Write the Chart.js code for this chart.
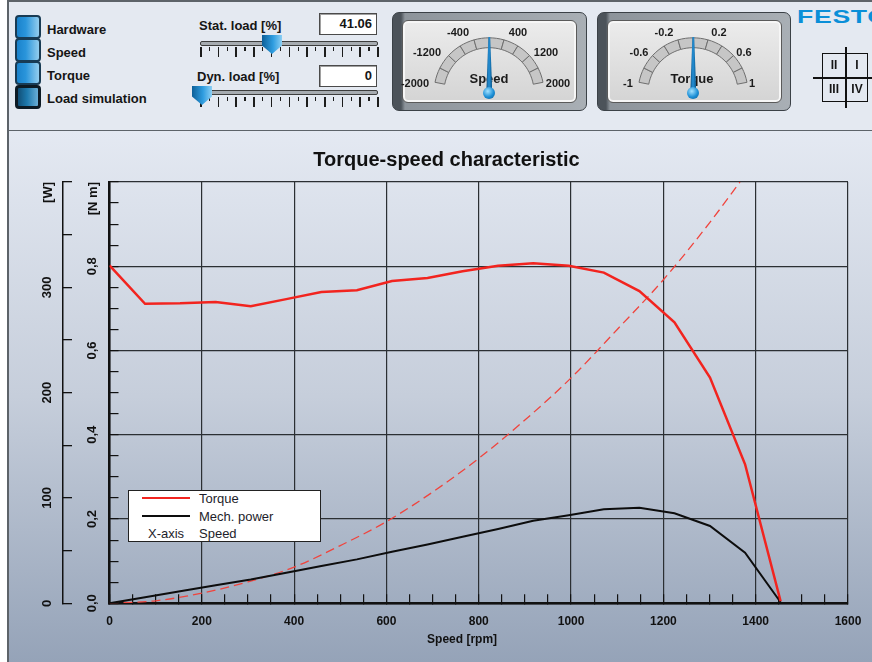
<!DOCTYPE html>
<html>
<head>
<meta charset="utf-8">
<script src="https://cdn.jsdelivr.net/npm/chart.js@4.4.1/dist/chart.umd.min.js"></script>
<style>
  html, body { margin: 0; padding: 0; }
  body { width: 872px; height: 662px; position: relative; overflow: hidden; background: #fff;
         font-family: "Liberation Sans", Arial, sans-serif; color: #151515; }
  .a { position: absolute; }
  .t { position: absolute; white-space: nowrap; transform: translate(-50%, -50%); }
  .lbl { position: absolute; white-space: nowrap; transform: translateY(-50%); font-weight: bold; font-size: 13px; }
  #topPanel { left: 7px; top: 0; width: 865px; height: 132px; box-sizing: border-box; background: #e4e9f1;
              border-top: 2px solid #5d6369; border-left: 2px solid #5d6369; border-bottom: 2px solid #5d6369; }
  #chartPanel { left: 7px; top: 131px; width: 865px; height: 531px; box-sizing: border-box;
                border-left: 2px solid #5d6369;
                background: linear-gradient(180deg, #e4e9f2 0%, #c6cedb 50%, #95a3b8 100%); }
  .btn { position: absolute; left: 15px; width: 26px; height: 24px; box-sizing: border-box;
         border: 2px solid #183b54; border-radius: 4px;
         background: linear-gradient(90deg, #1a82cb 0%, #2a95db 40%, #93cdee 100%); }
  .btn.on { border: 3px solid #0c1a24; background: linear-gradient(90deg, #114f77 0%, #1d79ad 45%, #6aaed6 100%); }
  .box { position: absolute; left: 319px; width: 58px; height: 22px; box-sizing: border-box; background: #fff;
         border: 1px solid #4a4a4a; box-shadow: inset 1px 1px 0 #a0a0a0; text-align: right;
         font-weight: bold; font-size: 13px; line-height: 20px; padding-right: 4px; }
  .track { position: absolute; left: 200px; width: 178px; height: 5px; box-sizing: border-box;
           background: #a6abb0; border: 1px solid #3d3d3d; border-radius: 2px; }
  .thumb { position: absolute; width: 20px; height: 19px;
           clip-path: polygon(0 0, 100% 0, 100% 55%, 50% 100%, 0 55%);
           background: linear-gradient(90deg, #0c5f98 0%, #2f9de0 55%, #8ccff4 100%); }
  .ticksL { position: absolute; left: 200px; width: 179px; height: 10px;
            background: repeating-linear-gradient(90deg, #1c1c1c 0 1.6px, transparent 1.6px 17.7px); }
  .ticksS { position: absolute; left: 208.8px; width: 170px; height: 4px;
            background: repeating-linear-gradient(90deg, #1c1c1c 0 1.2px, transparent 1.2px 17.7px); }
  .bezel { position: absolute; top: 12px; height: 99px; box-sizing: border-box; border-radius: 7px;
           border: 1px solid #3b4147;
           background: linear-gradient(90deg, #4c535a 0, #4c535a 8px, #8d949b 12px, #a9afb5 100%); }
  .face { position: absolute; top: 20px; width: 175px; height: 83px; box-sizing: border-box; border-radius: 6px;
          border: 1px solid #5a5a5a; box-shadow: inset 0 0 0 2px #f6f6f6;
          background: linear-gradient(180deg, #ececec 0%, #d4d4d4 100%); }
  .gl { position: absolute; white-space: nowrap; transform: translate(-50%, -50%); font-weight: bold; font-size: 11px; color: #1b1b1b; }
  .needle { position: absolute; width: 6px; height: 56px; top: 37px;
            background: linear-gradient(90deg, #0a4d7d, #2590d6 50%, #0a5a90);
            clip-path: polygon(35% 0, 65% 0, 100% 100%, 0 100%); }
  .pivot { position: absolute; width: 12px; height: 12px; top: 87px; border-radius: 50%;
           background: radial-gradient(circle at 40% 35%, #a4e2ff, #1c8fd6 55%, #0b5a92); }
  #legendBox { left: 128px; top: 490px; width: 193px; height: 52px; box-sizing: border-box;
               background: #fff; border: 1px solid #222; }
  .leg { position: absolute; white-space: nowrap; transform: translateY(-50%); font-size: 13px; color: #1d1d2a; }
</style>
</head>
<body>
<div id="topPanel" class="a"></div>
<div id="chartPanel" class="a"></div>

<!-- buttons -->
<div class="btn" style="top:15px"></div>
<div class="btn" style="top:38px"></div>
<div class="btn" style="top:61px"></div>
<div class="btn on" style="top:85px"></div>
<span class="lbl" style="left:47px; top:29px">Hardware</span>
<span class="lbl" style="left:47px; top:52px">Speed</span>
<span class="lbl" style="left:47px; top:75px">Torque</span>
<span class="lbl" style="left:47px; top:98px">Load simulation</span>

<!-- sliders -->
<span class="lbl" style="left:199px; top:25px">Stat. load [%]</span>
<div class="box" style="top:13px">41.06</div>
<div class="track" style="top:41px"></div>
<div class="ticksL" style="top:47px"></div>
<div class="ticksS" style="top:47px"></div>
<div class="thumb" style="left:262px; top:35px"></div>

<span class="lbl" style="left:197px; top:76px">Dyn. load [%]</span>
<div class="box" style="top:65px">0</div>
<div class="track" style="top:90px"></div>
<div class="ticksL" style="top:97px"></div>
<div class="ticksS" style="top:97px"></div>
<div class="thumb" style="left:192px; top:86px"></div>

<!-- gauges -->
<div class="bezel" style="left:392px; width:195px"></div>
<div class="face" style="left:402px"></div>
<div class="bezel" style="left:597px; width:194px"></div>
<div class="face" style="left:607px"></div>
<canvas id="gSpeed" class="a" width="130" height="80" style="left:424.3px; top:21.2px"></canvas>
<canvas id="gTorque" class="a" width="130" height="80" style="left:628.3px; top:21.2px"></canvas>
<div id="gaugeText"></div>
<span class="gl" style="left:489px; top:78px; font-size:13px">Speed</span>
<span class="gl" style="left:692px; top:78px; font-size:13px">Torque</span>
<div class="needle" style="left:486.3px"></div>
<div class="pivot" style="left:483.3px"></div>
<div class="needle" style="left:690.3px"></div>
<div class="pivot" style="left:687.3px"></div>

<!-- logo + quadrants -->
<span class="a" style="left:797px; top:6px; font-weight:bold; font-size:19px; color:#0a8fd8; letter-spacing:0.5px; transform:scaleX(1.4); transform-origin:left top">FESTO</span>
<div class="a" style="left:845px; top:47px; width:1.5px; height:61px; background:#111"></div>
<div class="a" style="left:813px; top:77px; width:59px; height:1.5px; background:#111"></div>
<div class="a" style="left:822px; top:53px; width:46px; height:49px; box-sizing:border-box; border:1px solid #111"></div>
<span class="t" style="left:834px; top:65px; font-weight:bold; font-size:12px">II</span>
<span class="t" style="left:857px; top:65px; font-weight:bold; font-size:12px">I</span>
<span class="t" style="left:834px; top:89px; font-weight:bold; font-size:12px">III</span>
<span class="t" style="left:857px; top:89px; font-weight:bold; font-size:12px">IV</span>

<!-- chart -->
<canvas id="chart" class="a" width="872" height="531" style="left:0; top:131px"></canvas>

<!-- legend -->
<div id="legendBox" class="a"></div>
<div class="a" style="left:142px; top:497px; width:48px; height:2px; background:#f2241f"></div>
<div class="a" style="left:142px; top:515px; width:48px; height:2px; background:#0d0d0d"></div>
<span class="leg" style="left:199px; top:498px">Torque</span>
<span class="leg" style="left:199px; top:516px">Mech. power</span>
<span class="leg" style="left:148px; top:533px">X-axis</span>
<span class="leg" style="left:199px; top:533px">Speed</span>

<script>
// ===================================
// DATA
// ===================================
const speedRpm = [0, 77, 153, 230, 306, 383, 459, 536, 612, 689, 765, 842, 918, 995, 1071, 1148, 1224, 1301, 1377, 1454];
const torqueNm = [0.802, 0.711, 0.712, 0.715, 0.705, 0.722, 0.739, 0.743, 0.765, 0.772, 0.788, 0.801, 0.807, 0.801, 0.785, 0.741, 0.667, 0.536, 0.330, 0.005];
const powerW = [0, 5.7, 11.4, 17.2, 22.6, 29.0, 35.5, 41.7, 49.0, 55.8, 63.2, 70.5, 78.3, 83.6, 89.3, 90.8, 85.5, 73.4, 48.1, 1.0];

// dashed red curve (load torque)
const loadSpeedRpm = [0, 100, 200, 300, 400, 500, 600, 700, 800, 900, 1000, 1100, 1200, 1300, 1366];
const loadTorqueNm = [0, 0.006, 0.024, 0.051, 0.086, 0.137, 0.194, 0.264, 0.344, 0.435, 0.535, 0.650, 0.768, 0.903, 1.0];

// labelled tick values
const speedLabelValues = [0, 200, 400, 600, 800, 1000, 1200, 1400, 1600];
const torqueLabelValues = [0, 0.2, 0.4, 0.6, 0.8];
const powerLabelValues = [0, 100, 200, 300];

// gauges
const gaugeSegments = [1, 1, 1, 1, 1, 1, 1, 1, 1, 1];
const speedGaugeLabels = ['-2000', '-1200', '-400', '400', '1200', '2000'];
const torqueGaugeLabels = ['-1', '-0.6', '-0.2', '0.2', '0.6', '1'];
const speedGaugeLabelPos = [[415, 83], [427, 52], [458, 32], [518, 32], [546, 52], [558, 83]];
const torqueGaugeLabelPos = [[628, 83], [639, 52], [664, 32], [719, 32], [744, 52], [752, 83]];

// ===================================
// HELPERS
// ===================================
function pts(xs, ys) {
  return xs.map((x, i) => ({ x: x, y: ys[i] }));
}

function near(list, v) {
  return list.some(l => Math.abs(l - v) < 1e-6);
}

function onStep(v, step) {
  return Math.abs(v / step - Math.round(v / step)) < 1e-6;
}

Chart.defaults.font.family = '"Liberation Sans", Arial, sans-serif';
Chart.defaults.color = '#151515';

const GRID = '#2b2f33';
const INK = '#111111';

// ===================================
// GAUGES
// ===================================
function makeGauge(id, labels, pos) {
  new Chart(document.getElementById(id), {
    type: 'doughnut',
    data: {
      datasets: [{
        data: gaugeSegments,
        backgroundColor: '#c6c6c6',
        borderColor: '#6e6e6e',
        borderWidth: 1
      }]
    },
    options: {
      responsive: false,
      animation: false,
      events: [],
      rotation: -79,
      circumference: 158,
      radius: 55,
      cutout: '82%',
      plugins: { legend: { display: false }, tooltip: { enabled: false } }
    }
  });

  const holder = document.getElementById('gaugeText');
  labels.forEach((txt, i) => {
    const s = document.createElement('span');
    s.className = 'gl';
    s.style.left = pos[i][0] + 'px';
    s.style.top = pos[i][1] + 'px';
    s.textContent = txt;
    holder.appendChild(s);
  });
}

makeGauge('gSpeed', speedGaugeLabels, speedGaugeLabelPos);
makeGauge('gTorque', torqueGaugeLabels, torqueGaugeLabelPos);

// ===================================
// TORQUE-SPEED CHART
// ===================================
new Chart(document.getElementById('chart'), {
  type: 'line',
  data: {
    datasets: [
      {
        label: 'Torque',
        data: pts(speedRpm, torqueNm),
        yAxisID: 'yT',
        borderColor: '#f2241f',
        borderWidth: 2.5,
        pointRadius: 0,
        tension: 0
      },
      {
        label: 'Mech. power',
        data: pts(speedRpm, powerW),
        yAxisID: 'yP',
        borderColor: '#0d0d0d',
        borderWidth: 2,
        pointRadius: 0,
        tension: 0
      },
      {
        label: 'Load',
        data: pts(loadSpeedRpm, loadTorqueNm),
        yAxisID: 'yT',
        borderColor: '#f0443d',
        borderWidth: 1.3,
        borderDash: [9, 5],
        pointRadius: 0,
        cubicInterpolationMode: 'monotone'
      }
    ]
  },
  options: {
    responsive: false,
    animation: false,
    events: [],
    layout: { padding: { left: 35, right: 14, top: 0, bottom: 0 } },
    plugins: {
      legend: { display: false },
      tooltip: { enabled: false },
      title: {
        display: true,
        text: 'Torque-speed characteristic',
        color: INK,
        font: { size: 20, weight: 'bold' },
        padding: { top: 17, bottom: 10 }
      }
    },
    scales: {
      x: {
        type: 'linear',
        position: 'bottom',
        min: 0,
        max: 1600,
        ticks: {
          stepSize: 50,
          autoSkip: false,
          maxRotation: 0,
          padding: 20.2,
          color: INK,
          font: { size: 12, weight: 'bold' },
          callback: v => near(speedLabelValues, v) ? String(v) : ''
        },
        grid: {
          tickLength: -9,
          lineWidth: 1.2,
          color: c => (c.tick && onStep(c.tick.value, 200)) ? GRID : 'rgba(0,0,0,0)',
          tickColor: INK
        },
        border: { color: INK, width: 2.5 },
        title: {
          display: true,
          text: 'Speed [rpm]          ',
          color: INK,
          font: { size: 12, weight: 'bold' },
          padding: { top: 0, bottom: 15.5 }
        },
        afterFit: s => { s.height = 58.7; s.paddingLeft = 0; s.paddingRight = 24; }
      },
      yT: {
        type: 'linear',
        position: 'left',
        weight: 0,
        min: 0,
        max: 1,
        ticks: {
          stepSize: 0.05,
          autoSkip: false,
          minRotation: 90,
          maxRotation: 90,
          crossAlign: 'center',
          padding: 17,
          color: INK,
          font: { size: 13, weight: 'bold' },
          callback: v => near(torqueLabelValues, v) ? v.toFixed(1).replace('.', ',') : ''
        },
        grid: {
          tickLength: -9,
          lineWidth: 1.2,
          color: c => (c.tick && onStep(c.tick.value, 0.2)) ? GRID : 'rgba(0,0,0,0)',
          tickColor: INK
        },
        border: { color: INK, width: 2.5 },
        title: {
          display: true,
          text: '[N m]',
          align: 'end',
          color: INK,
          font: { size: 13, weight: 'bold' },
          padding: { top: 22.2, bottom: 0 }
        },
        afterFit: s => { s.width = 46.5; }
      },
      yP: {
        type: 'linear',
        position: 'left',
        weight: 1,
        min: 0,
        max: 400,
        ticks: {
          stepSize: 50,
          autoSkip: false,
          minRotation: 90,
          maxRotation: 90,
          crossAlign: 'center',
          padding: 14.2,
          color: INK,
          font: { size: 13, weight: 'bold' },
          callback: v => near(powerLabelValues, v) ? String(v) : ''
        },
        grid: {
          drawOnChartArea: false,
          tickLength: -9,
          lineWidth: 1.3,
          color: INK
        },
        border: { color: INK, width: 1.5 },
        title: {
          display: true,
          text: '[W]',
          align: 'end',
          color: INK,
          font: { size: 13, weight: 'bold' },
          padding: { top: 5.2, bottom: 0 }
        },
        afterFit: s => { s.width = 28; }
      }
    }
  }
});
</script>
</body>
</html>
